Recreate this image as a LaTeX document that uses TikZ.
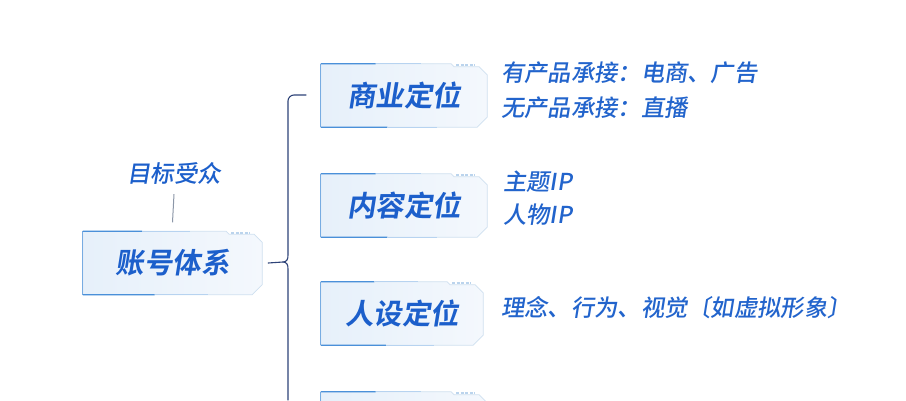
\documentclass[tikz,border=0pt]{standalone}
\usepackage{fontspec}
\usetikzlibrary{backgrounds,calc}
\newfontfamily\cjk[FakeSlant=0.16]{Noto Sans CJK SC Medium}
\newfontfamily\cjkbold[FakeSlant=0.16]{Noto Sans CJK SC Bold}
\definecolor{txtblue}{HTML}{1C5FCB}
\definecolor{subblue}{HTML}{2264CC}
\definecolor{boxfillL}{HTML}{E6F0FA}
\definecolor{boxfillR}{HTML}{F4F8FD}
\definecolor{boxedge}{HTML}{CFE0F0}
\definecolor{accent}{HTML}{4A90D9}
\definecolor{bracecol}{HTML}{2E4378}
\definecolor{linegray}{HTML}{8C97A8}
\tikzset{
  titletext/.style={inner sep=0pt, text=txtblue, font=\cjkbold\fontsize{28.5pt}{30pt}\selectfont},
  subtext/.style={inner sep=0pt, anchor=west, text=subblue, font=\cjk\fontsize{23.3pt}{25pt}\selectfont},
  toptext/.style={inner sep=0pt, text=txtblue, font=\cjk\fontsize{23.5pt}{25pt}\selectfont},
  boxborder/.style={draw=boxedge, line width=0.8pt},
  accentline/.style={draw=accent, line width=1.2pt},
  stripes/.style={draw=boxedge!85!accent, line width=1.8pt, dash pattern=on 3pt off 1.5pt},
  braceline/.style={draw=bracecol, line width=1.1pt, line cap=round, line join=round},
  thinline/.style={draw=linegray, line width=1pt}
}
\newcommand\tagbox[5]{% name, x, y, text, width
  \node[titletext, minimum width=#5pt, minimum height=63pt] (#1) at (#2,#3) {#4};
  \begin{pgfonlayer}{background}
    \shade[left color=boxfillL, right color=boxfillR]
      (#1.north west) -- ([xshift=-36pt]#1.north east) -- ([xshift=-33pt,yshift=-3pt]#1.north east)
      -- ([xshift=-8pt,yshift=-3pt]#1.north east) -- ([yshift=-11pt]#1.north east)
      -- ([yshift=10pt]#1.south east) -- ([xshift=-10pt]#1.south east) -- (#1.south west) -- cycle;
    \draw[boxborder]
      (#1.north west) -- ([xshift=-36pt]#1.north east) -- ([xshift=-33pt,yshift=-3pt]#1.north east)
      -- ([xshift=-8pt,yshift=-3pt]#1.north east) -- ([yshift=-11pt]#1.north east)
      -- ([yshift=10pt]#1.south east) -- ([xshift=-10pt]#1.south east) -- (#1.south west) -- cycle;
    \draw[stripes] ([xshift=-31pt,yshift=-1.5pt]#1.north east) -- ([xshift=-12pt,yshift=-1.5pt]#1.north east);
    \draw[draw=accent!75, line width=1pt] (#1.south west) -- (#1.north west);
    \draw[accentline] (#1.north west) -- ($(#1.north west)!0.33!(#1.north east)$);
    \draw[draw=accent!40, line width=1.1pt] ($(#1.north west)!0.33!(#1.north east)$) -- ($(#1.north west)!0.6!(#1.north east)$);
    \draw[accentline] (#1.south west) -- ($(#1.south west)!0.4!(#1.south east)$);
    \draw[draw=accent!40, line width=1.1pt] ($(#1.south west)!0.4!(#1.south east)$) -- ($(#1.south west)!0.7!(#1.south east)$);
  \end{pgfonlayer}
}
\begin{document}
\begin{tikzpicture}[x=1pt,y=-1pt]
  \useasboundingbox (0,0) rectangle (906,400);
  \clip (0,0) rectangle (906,400);
  \begin{pgfonlayer}{background}
    \fill[white] (0,0) rectangle (906,400);
  \end{pgfonlayer}

  % left side
  \node[toptext] (mb) at (174,173) {目标受众};
  \tagbox{zh}{172.5}{263}{账号体系}{179}
  \draw[thinline] ([yshift=-10pt]mb.south) -- ([yshift=9pt]zh.north);

  % right boxes
  \tagbox{b1}{404}{95.5}{商业定位}{166}
  \tagbox{b2}{404}{205.5}{内容定位}{166}
  \tagbox{b3}{402}{313.5}{人设定位}{162}
  \tagbox{b4}{404}{423.5}{}{166}

  % brace
  \coordinate (tip) at (283,262);
  \coordinate (topend) at (306,95);
  \coordinate (botend) at (288,400);
  \draw[braceline] (topend) -- (294,95) to[out=180,in=90] (288,101) -- (288,255)
     .. controls (288,259) and (287,262) .. (tip)
     .. controls (287,262) and (288,265) .. (288,269) -- (botend);
  \draw[braceline] ([xshift=6pt]zh.east) -- (tip);

  % texts
  \node[subtext] (t1a) at (501,73) {有产品承接：电商、广告};
  \node[subtext] (t1b) at (501,108) {无产品承接：直播};
  \node[subtext] (t2a) at (503,182) {主题IP};
  \node[subtext] (t2b) at (503,215) {人物IP};
  \node[subtext] (t3) at (501,308) {理念、行为、视觉〔如虚拟形象〕};
\end{tikzpicture}
\end{document}
